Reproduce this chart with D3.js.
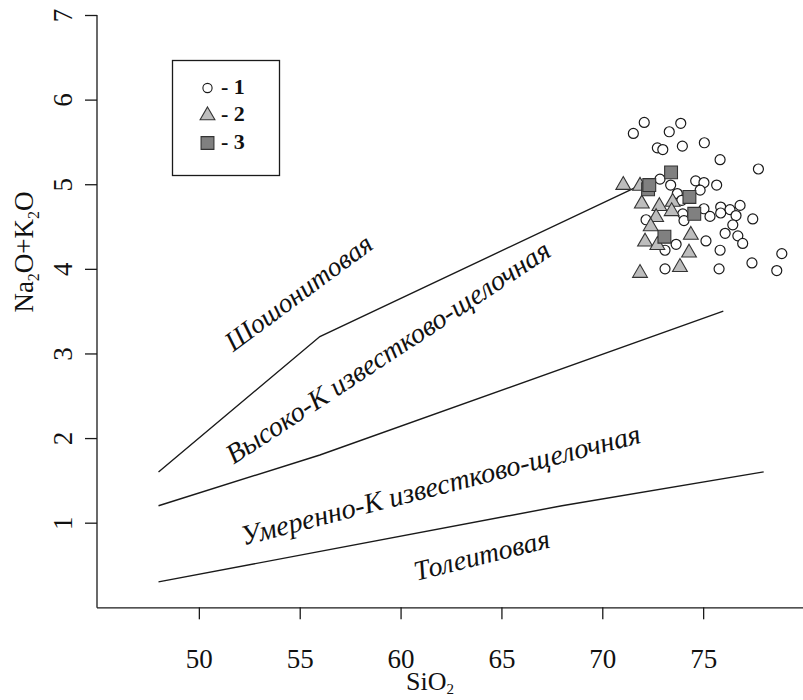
<!DOCTYPE html>
<html><head><meta charset="utf-8">
<script src="https://cdn.jsdelivr.net/npm/d3@7"></script>
<style>
body{margin:0;background:#fff}svg{display:block}
svg text{font-family:"Liberation Serif","Times New Roman","DejaVu Serif",serif !important;}
</style>
</head><body>
<svg id="chart" width="803" height="700"></svg>
<script>
// ---- data ----
const xTicks = [50, 55, 60, 65, 70, 75];
const yTicks = [1, 2, 3, 4, 5, 6, 7];

// boundary lines (SiO2, Na2O+K2O)
const shoshLineX = [48, 56, 72];
const shoshLineY = [1.6, 3.2, 5.0];
const highKLineX = [48, 56, 76];
const highKLineY = [1.2, 1.8, 3.5];
const lowKLineX = [48, 68, 78];
const lowKLineY = [0.3, 1.2, 1.6];

// series 1 (circles)
const s1X = [72.08,71.54,73.89,73.32,72.73,73.0,73.97,75.06,75.84,77.74,72.86,73.39,74.63,75.04,75.67,73.72,74.85,73.94,75.04,75.34,75.87,76.33,76.83,76.63,75.87,77.46,76.47,76.09,76.72,76.96,72.17,73.99,74.05,73.66,73.11,75.14,75.84,73.11,75.79,77.42,78.65,78.90];
const s1Y = [5.73,5.60,5.72,5.62,5.43,5.41,5.45,5.49,5.29,5.18,5.06,4.99,5.04,5.02,4.99,4.89,4.93,4.81,4.71,4.62,4.73,4.70,4.75,4.63,4.66,4.59,4.52,4.42,4.39,4.30,4.58,4.65,4.57,4.29,4.22,4.33,4.22,4.00,4.00,4.07,3.98,4.18];
// series 2 (triangles)
const s2X = [71.04,71.87,71.96,72.83,73.49,73.44,72.67,72.40,72.12,72.73,74.39,74.30,73.85,71.87];
const s2Y = [4.99,4.98,4.77,4.74,4.79,4.68,4.61,4.50,4.32,4.28,4.40,4.19,4.02,3.95];
// series 3 (squares)
const s3X = [72.27,72.33,73.41,74.32,74.56,73.08];
const s3Y = [4.94,4.99,5.14,4.85,4.65,4.38];

const legendLabels = ["- 1", "- 2", "- 3"];
const regionLabels = ["Шошонитовая", "Высоко-К известково-щелочная", "Умеренно-К известково-щелочная", "Толеитовая"];

// ---- drawing ----
const svg = d3.select("#chart");
const x = d3.scaleLinear().domain([45, 80]).range([98, 804]);
const y = d3.scaleLinear().domain([0, 7]).range([607.3, 15]);

// axes
const xAxis = svg.append("g").attr("transform", `translate(0,${y(0)})`)
  .call(d3.axisBottom(x).tickValues(xTicks).tickSize(12).tickSizeOuter(0).tickPadding(30));
xAxis.select(".domain").attr("d", `M97,0.5H803`);
const yAxis = svg.append("g").attr("transform", `translate(97,0)`)
  .call(d3.axisLeft(y).tickValues(yTicks).tickSize(12).tickSizeOuter(0));
yAxis.select(".domain").attr("d", `M0,${y(7)}V${y(0)+0.5}`);
svg.selectAll(".domain, .tick line").attr("stroke", "#1a1a1a").attr("stroke-width", 1.3);
xAxis.selectAll(".tick text").attr("font-size", 27).attr("fill", "#111");
yAxis.selectAll(".tick text").remove();
yAxis.selectAll(".tick").append("text")
  .attr("transform", "translate(-25,0) rotate(-90)")
  .attr("text-anchor", "middle")
  .attr("font-size", 27).attr("fill", "#111")
  .text(d => d);

// axis titles
const xt = svg.append("text").attr("x", 430).attr("y", 690).attr("text-anchor", "middle")
  .attr("font-size", 26).attr("fill", "#111");
xt.append("tspan").text("SiO");
xt.append("tspan").text("2").attr("font-size", 15).attr("dy", 4);

const yt = svg.append("text").attr("transform", "translate(33,252) rotate(-90)").attr("text-anchor", "middle")
  .attr("font-size", 27).attr("fill", "#111");
yt.append("tspan").text("Na");
yt.append("tspan").text("2").attr("font-size", 16).attr("dy", 6);
yt.append("tspan").text("O+K").attr("dy", -6);
yt.append("tspan").text("2").attr("font-size", 16).attr("dy", 6);
yt.append("tspan").text("O").attr("dy", -6);

// boundary lines
const lineGen = d3.line().x(d => x(d[0])).y(d => y(d[1]));
[[shoshLineX, shoshLineY], [highKLineX, highKLineY], [lowKLineX, lowKLineY]].forEach(([lx, ly]) => {
  svg.append("path").datum(lx.map((v, i) => [v, ly[i]]))
    .attr("d", lineGen).attr("fill", "none").attr("stroke", "#1a1a1a").attr("stroke-width", 1.4);
});

// region labels
const labelPos = [
  {cx: 304, cy: 300, ang: -36.5, len: 176},
  {cx: 393, cy: 360, ang: -33.3, len: 382},
  {cx: 443, cy: 494, ang: -14.5, len: 412},
  {cx: 484, cy: 564, ang: -14, len: 139}
];
regionLabels.forEach((t, i) => {
  const p = labelPos[i];
  const el = svg.append("text")
    .attr("transform", `translate(${p.cx},${p.cy}) rotate(${p.ang})`)
    .attr("text-anchor", "middle")
    .attr("font-style", "italic")
    .attr("font-size", 25).attr("fill", "#111").text(t);
  const w = el.node().getComputedTextLength();
  el.attr("font-size", 25 * p.len / w);
});

// points
const tri = d3.symbol().type(d3.symbolTriangle).size(95);
const sq = d3.symbol().type(d3.symbolSquare).size(165);
svg.append("g").selectAll("circle").data(s1X.map((v, i) => [v, s1Y[i]])).join("circle")
  .attr("cx", d => x(d[0])).attr("cy", d => y(d[1])).attr("r", 5)
  .attr("fill", "#fff").attr("stroke", "#1a1a1a").attr("stroke-width", 1.2);
svg.append("g").selectAll("path").data(s2X.map((v, i) => [v, s2Y[i]])).join("path")
  .attr("d", tri).attr("transform", d => `translate(${x(d[0])},${y(d[1])})`)
  .attr("fill", "#bdbdbd").attr("stroke", "#333").attr("stroke-width", 1.1);
svg.append("g").selectAll("path").data(s3X.map((v, i) => [v, s3Y[i]])).join("path")
  .attr("d", sq).attr("transform", d => `translate(${x(d[0])},${y(d[1])})`)
  .attr("fill", "#808080").attr("stroke", "#333").attr("stroke-width", 1.1);

// legend
svg.append("rect").attr("x", 172.5).attr("y", 60.5).attr("width", 107).attr("height", 115)
  .attr("fill", "#fff").attr("stroke", "#1a1a1a").attr("stroke-width", 1.3);
const lg = svg.append("g");
const rows = [88, 115.5, 143];
lg.append("circle").attr("cx", 207.5).attr("cy", rows[0]).attr("r", 4.6)
  .attr("fill", "#fff").attr("stroke", "#1a1a1a").attr("stroke-width", 1.1);
lg.append("path").attr("d", tri).attr("transform", `translate(207.5,${rows[1]})`)
  .attr("fill", "#bdbdbd").attr("stroke", "#333").attr("stroke-width", 1.1);
lg.append("path").attr("d", sq).attr("transform", `translate(207.5,${rows[2]})`)
  .attr("fill", "#808080").attr("stroke", "#333").attr("stroke-width", 1.1);
legendLabels.forEach((t, i) => {
  lg.append("text").attr("x", 221).attr("y", rows[i] + 5.5)
    .attr("font-weight", "bold").attr("font-size", 22)
    .attr("fill", "#111").text(t);
});
</script>
</body></html>
